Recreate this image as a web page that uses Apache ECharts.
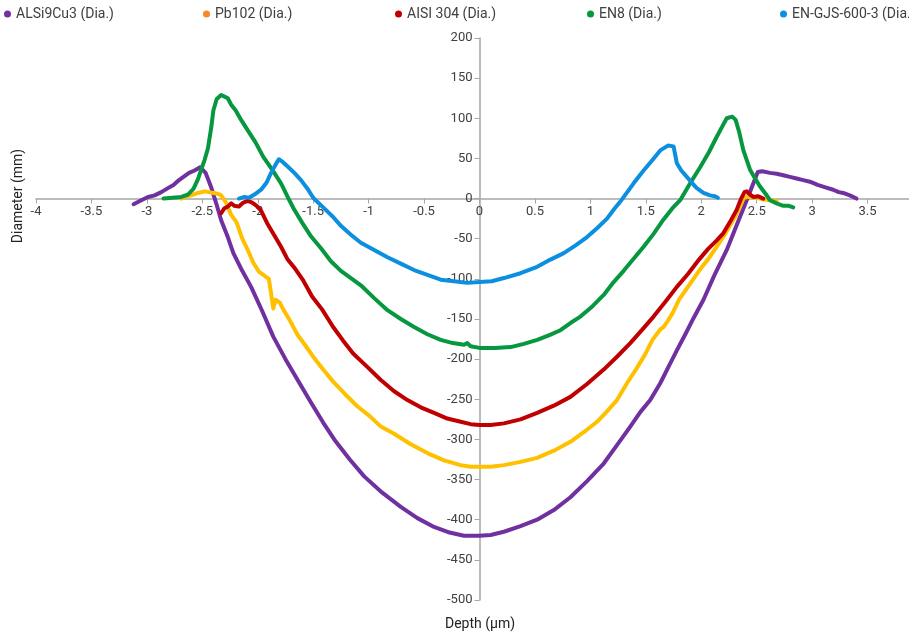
<!DOCTYPE html>
<html>
<head>
<meta charset="utf-8">
<script src="https://cdn.jsdelivr.net/npm/echarts@6/dist/echarts.min.js"></script>
<style>
  html, body { margin: 0; padding: 0; background: #fff; }
  #chart { width: 909px; height: 635px; }
</style>
</head>
<body>
<div id="chart"></div>
<script>
// series names
const names = ['ALSi9Cu3 (Dia.)', 'Pb102 (Dia.)', 'AISI 304 (Dia.)', 'EN8 (Dia.)', 'EN-GJS-600-3 (Dia.)'];

// [depth, diameter]
const alsi = [[-3.12,-7],[-3.05,-2],[-2.99,2],[-2.93,4],[-2.87,8],[-2.81,13],[-2.76,17],[-2.72,22],[-2.67,27],[-2.62,32],[-2.57,35],[-2.52,39],[-2.47,32],[-2.42,14],[-2.37,-8],[-2.33,-27],[-2.27,-48],[-2.22,-68],[-2.14,-90],[-2.06,-110],[-1.96,-140],[-1.86,-172],[-1.75,-200],[-1.64,-226],[-1.52,-254],[-1.41,-279],[-1.31,-300],[-1.17,-325],[-1.04,-346],[-0.88,-366],[-0.71,-384],[-0.56,-398],[-0.41,-409],[-0.27,-416],[-0.14,-420],[0,-420],[0.1,-419],[0.22,-415],[0.37,-408],[0.52,-400],[0.67,-388],[0.82,-372],[0.97,-352],[1.12,-330],[1.24,-307],[1.36,-284],[1.45,-266],[1.54,-251],[1.63,-230],[1.71,-208],[1.78,-189],[1.86,-168],[1.93,-149],[2.02,-126],[2.12,-95],[2.23,-64],[2.32,-33],[2.41,-2],[2.47,19],[2.51,33],[2.55,34],[2.62,32],[2.68,31],[2.74,29],[2.80,27],[2.86,25],[2.92,23],[2.98,21],[3.05,17],[3.12,14],[3.19,11],[3.24,8],[3.28,7],[3.34,4],[3.40,0]];
const pb = [[-2.69,0],[-2.64,3],[-2.60,4],[-2.54,7],[-2.48,9],[-2.44,8],[-2.40,7],[-2.36,6],[-2.33,4],[-2.29,-4],[-2.24,-20],[-2.19,-30],[-2.14,-50],[-2.09,-64],[-2.04,-80],[-1.99,-91],[-1.95,-95],[-1.90,-100],[-1.88,-118],[-1.86,-137],[-1.84,-126],[-1.80,-130],[-1.77,-138],[-1.71,-152],[-1.64,-170],[-1.57,-183],[-1.50,-197],[-1.41,-213],[-1.32,-228],[-1.21,-244],[-1.10,-259],[-0.99,-271],[-0.89,-284],[-0.77,-293],[-0.62,-306],[-0.47,-317],[-0.32,-326],[-0.17,-332],[-0.08,-334],[0,-334],[0.1,-334],[0.22,-332],[0.37,-328],[0.52,-323],[0.67,-314],[0.82,-303],[0.94,-291],[1.06,-278],[1.15,-265],[1.24,-251],[1.33,-230],[1.41,-213],[1.49,-195],[1.56,-176],[1.63,-163],[1.66,-160],[1.70,-152],[1.74,-143],[1.80,-126],[1.90,-106],[1.98,-90],[2.07,-74],[2.14,-60],[2.22,-43],[2.30,-24],[2.35,-10],[2.38,0],[2.41,2],[2.45,2],[2.50,1],[2.56,-1],[2.62,-2],[2.68,-3]];
const aisi = [[-2.33,-18],[-2.30,-12],[-2.27,-10],[-2.24,-6],[-2.21,-9],[-2.17,-10],[-2.13,-5],[-2.09,-3],[-2.05,-5],[-2.01,-9],[-1.97,-15],[-1.91,-32],[-1.85,-46],[-1.79,-60],[-1.73,-76],[-1.67,-86],[-1.59,-102],[-1.51,-122],[-1.42,-138],[-1.32,-160],[-1.23,-177],[-1.14,-193],[-1.01,-210],[-0.89,-226],[-0.77,-240],[-0.65,-251],[-0.53,-260],[-0.41,-267],[-0.29,-274],[-0.17,-278],[-0.08,-281],[0,-282],[0.1,-282],[0.22,-280],[0.37,-275],[0.52,-267],[0.67,-258],[0.82,-247],[0.97,-231],[1.12,-213],[1.24,-197],[1.36,-180],[1.47,-163],[1.57,-147],[1.68,-128],[1.78,-110],[1.88,-94],[1.98,-76],[2.06,-63],[2.14,-52],[2.20,-43],[2.26,-29],[2.32,-14],[2.36,0],[2.39,8],[2.41,9],[2.44,5],[2.47,2],[2.51,3],[2.56,0]];
const en8 = [[-2.85,0],[-2.77,1],[-2.69,2],[-2.63,5],[-2.58,12],[-2.54,24],[-2.51,36],[-2.48,48],[-2.45,62],[-2.42,88],[-2.40,110],[-2.37,124],[-2.33,129],[-2.30,127],[-2.27,125],[-2.24,117],[-2.20,110],[-2.15,98],[-2.09,85],[-2.02,70],[-1.95,52],[-1.87,36],[-1.79,19],[-1.73,2],[-1.67,-14],[-1.60,-30],[-1.52,-47],[-1.43,-62],[-1.34,-78],[-1.25,-90],[-1.16,-99],[-1.07,-108],[-0.95,-124],[-0.83,-139],[-0.71,-150],[-0.59,-160],[-0.47,-169],[-0.35,-176],[-0.24,-180],[-0.14,-182],[-0.11,-180],[-0.08,-184],[0,-186],[0.14,-186],[0.28,-185],[0.40,-181],[0.52,-176],[0.63,-170],[0.73,-164],[0.82,-155],[0.91,-147],[1.02,-134],[1.12,-120],[1.21,-104],[1.30,-90],[1.39,-75],[1.48,-60],[1.57,-44],[1.66,-26],[1.74,-12],[1.81,-2],[1.90,19],[1.99,39],[2.07,58],[2.14,77],[2.19,90],[2.23,100],[2.28,102],[2.31,98],[2.34,84],[2.38,60],[2.44,36],[2.49,24],[2.53,15],[2.58,6],[2.62,-2],[2.68,-6],[2.74,-9],[2.79,-9],[2.83,-11]];
const gjs = [[-2.17,0],[-2.12,2],[-2.08,1],[-2.03,5],[-1.97,11],[-1.92,20],[-1.88,32],[-1.84,42],[-1.81,49],[-1.77,45],[-1.73,40],[-1.67,32],[-1.61,23],[-1.55,12],[-1.50,1],[-1.41,-11],[-1.32,-23],[-1.25,-34],[-1.16,-45],[-1.07,-55],[-0.95,-64],[-0.83,-73],[-0.71,-81],[-0.59,-89],[-0.47,-95],[-0.35,-101],[-0.23,-103],[-0.11,-105],[0,-104],[0.11,-103],[0.22,-99],[0.37,-93],[0.52,-85],[0.64,-76],[0.76,-68],[0.87,-58],[0.97,-48],[1.06,-37],[1.15,-25],[1.22,-12],[1.28,-2],[1.39,19],[1.48,35],[1.56,48],[1.63,60],[1.70,66],[1.75,65],[1.78,44],[1.82,35],[1.87,27],[1.92,19],[1.96,13],[2.02,7],[2.08,4],[2.12,3],[2.15,1]];

const lineColors = ['#7030a0', '#ffc000', '#c00000', '#07973f', '#0d8fe0'];
const dotColors = ['#7030a0', '#f7882a', '#c00000', '#07973f', '#0d8fe0'];
const legendLeft = [4, 203, 395, 587, 780];

const font = 'Roboto, "Liberation Sans", sans-serif';
const chart = echarts.init(document.getElementById('chart'));

// plot box: x -4..4 -> 36..923, y 200..-500 -> 38..600
const gridLeft = 36, gridTop = 38, gridRight = -14, gridBottom = 35;
const plotW = 909 - gridLeft - gridRight, plotH = 635 - gridTop - gridBottom;
const zeroX = gridLeft + plotW * 4 / 8;
const zeroY = gridTop + plotH * 200 / 700;

chart.setOption({
  animation: false,
  textStyle: { fontFamily: font },
  legend: names.map((n, i) => ({
    left: legendLeft[i],
    top: 7,
    padding: 0,
    icon: 'circle',
    itemWidth: 7,
    itemHeight: 7,
    textStyle: { fontSize: 14, color: '#404040' },
    data: [n]
  })),
  grid: { left: gridLeft, right: gridRight, top: gridTop, bottom: gridBottom, outerBoundsMode: 'none', containLabel: false },
  xAxis: {
    type: 'value',
    min: -4,
    max: 4,
    interval: 0.5,
    position: 'bottom',
    offset: -(635 - gridBottom - zeroY),
    axisLine: { onZero: false, lineStyle: { color: '#a6a6a6', width: 1.5 } },
    axisTick: { show: true, length: 5, lineStyle: { color: '#a6a6a6' } },
    axisLabel: { color: '#404040', fontSize: 13, margin: 7 },
    splitLine: { show: false }
  },
  yAxis: {
    type: 'value',
    min: -500,
    max: 200,
    interval: 50,
    position: 'left',
    offset: -(zeroX - gridLeft),
    axisLine: { show: true, onZero: false, lineStyle: { color: '#a6a6a6', width: 1.5 } },
    axisTick: { show: true, length: 5, lineStyle: { color: '#a6a6a6' } },
    axisLabel: { color: '#404040', fontSize: 13, margin: 7 },
    splitLine: { show: false }
  },
  graphic: [
    {
      type: 'text', x: 18, y: 196, rotation: Math.PI / 2,
      style: { text: 'Diameter (mm)', fill: '#222', fontSize: 14, fontFamily: font,
               textAlign: 'center', textVerticalAlign: 'middle' }
    },
    {
      type: 'text', x: 480, y: 624,
      style: { text: 'Depth (µm)', fill: '#222', fontSize: 14, fontFamily: font,
               textAlign: 'center', textVerticalAlign: 'middle' }
    }
  ],
  series: [alsi, pb, aisi, en8, gjs].map((d, i) => ({
    name: names[i],
    type: 'line',
    data: d,
    showSymbol: false,
    symbol: 'circle',
    itemStyle: { color: dotColors[i] },
    lineStyle: { color: lineColors[i], width: 4, join: 'round', cap: 'round' }
  }))
});
</script>
</body>
</html>
